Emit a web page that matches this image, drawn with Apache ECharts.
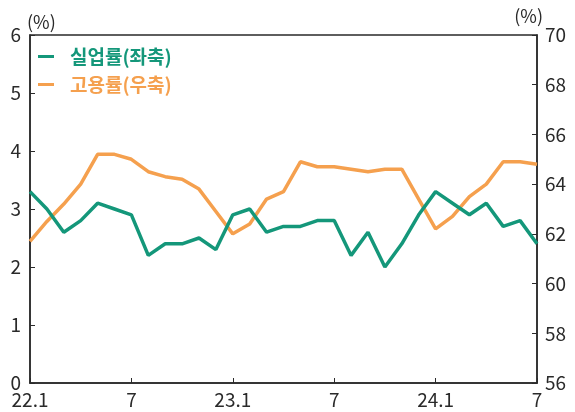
<!DOCTYPE html>
<html>
<head>
<meta charset="utf-8">
<script src="https://cdn.jsdelivr.net/npm/echarts@6/dist/echarts.min.js"></script>
<style>
  html, body { margin: 0; padding: 0; background: #fff; }
  #chart { width: 575px; height: 412px; }
</style>
</head>
<body>
<div id="chart"></div>
<script>
// 월별 (22.1 ~ 24.7)
var months = ['22.1','22.2','22.3','22.4','22.5','22.6','22.7','22.8','22.9','22.10','22.11','22.12',
              '23.1','23.2','23.3','23.4','23.5','23.6','23.7','23.8','23.9','23.10','23.11','23.12',
              '24.1','24.2','24.3','24.4','24.5','24.6','24.7'];
// 실업률(좌축, %)
var unempRate = [3.3, 3.0, 2.6, 2.8, 3.1, 3.0, 2.9, 2.2, 2.4, 2.4, 2.5, 2.3,
                 2.9, 3.0, 2.6, 2.7, 2.7, 2.8, 2.8, 2.2, 2.6, 2.0, 2.4, 2.9,
                 3.3, 3.1, 2.9, 3.1, 2.7, 2.8, 2.4];
// 고용률(우축, %)
var empRate = [61.7, 62.5, 63.2, 64.0, 65.2, 65.2, 65.0, 64.5, 64.3, 64.2, 63.8, 62.9,
               62.0, 62.4, 63.4, 63.7, 64.9, 64.7, 64.7, 64.6, 64.5, 64.6, 64.6, 63.4,
               62.2, 62.7, 63.5, 64.0, 64.9, 64.9, 64.8];
// 눈금 표시할 달 (1월, 7월)
var tickIdx = [0, 6, 12, 18, 24, 30];

var green = '#14977a';
var orange = '#f5a04e';
var ink = '#2a2a2a';
var font = '"Noto Sans CJK KR", "Noto Sans", sans-serif';

var myChart = echarts.init(document.getElementById('chart'));
var option = {
  animation: false,
  textStyle: { fontFamily: font },
  grid: {
    left: 30, right: 38, top: 35, bottom: 29,
    outerBoundsMode: 'none',
    containLabel: false,
    show: true, borderColor: ink, borderWidth: 1.5
  },
  legend: {
    orient: 'vertical',
    left: 33, top: 42,
    itemGap: 9,
    itemWidth: 16, itemHeight: 3,
    icon: 'rect',
    textStyle: { fontSize: 19, fontFamily: font, fontWeight: 'bold', padding: [0, 0, 0, 11] },
    data: [
      { name: '실업률(좌축)', textStyle: { color: green } },
      { name: '고용률(우축)', textStyle: { color: orange } }
    ]
  },
  xAxis: {
    type: 'category',
    data: months,
    boundaryGap: false,
    axisLine: { lineStyle: { color: ink, width: 1.5 } },
    axisTick: {
      inside: true, length: 5, lineStyle: { color: ink },
      interval: function (i) { return tickIdx.indexOf(i) >= 0; }
    },
    axisLabel: {
      color: ink, fontSize: 19, margin: 7,
      interval: function (i) { return tickIdx.indexOf(i) >= 0; },
      formatter: function (v) {
        var p = v.split('.');
        return p[1] === '1' ? v : p[1];
      }
    },
    splitLine: { show: false }
  },
  yAxis: [
    {
      type: 'value', min: 0, max: 6, interval: 1,
      name: '(%)', nameLocation: 'end', nameGap: 13,
      nameTextStyle: { color: ink, fontSize: 18, align: 'left', verticalAlign: 'middle', padding: [0, 0, 0, -3] },
      axisLine: { show: true, lineStyle: { color: ink, width: 1.5 } },
      axisTick: { show: true, inside: true, length: 5, lineStyle: { color: ink } },
      axisLabel: { color: ink, fontSize: 19, margin: 9, padding: [0, 0, 5, 0] },
      splitLine: { show: false }
    },
    {
      type: 'value', min: 56, max: 70, interval: 2,
      name: '(%)', nameLocation: 'end', nameGap: 13,
      nameTextStyle: { color: ink, fontSize: 18, align: 'right', verticalAlign: 'middle', padding: [0, -6, 0, 0] },
      axisLine: { show: true, lineStyle: { color: ink, width: 1.5 } },
      axisTick: { show: true, inside: true, length: 5, lineStyle: { color: ink } },
      axisLabel: { color: ink, fontSize: 19, margin: 8, padding: [0, 0, 5, 0] },
      splitLine: { show: false }
    }
  ],
  series: [
    {
      name: '실업률(좌축)', type: 'line', yAxisIndex: 0,
      data: unempRate, symbol: 'none',
      lineStyle: { color: green, width: 3.5 },
      itemStyle: { color: green },
      z: 3
    },
    {
      name: '고용률(우축)', type: 'line', yAxisIndex: 1,
      data: empRate, symbol: 'none',
      lineStyle: { color: orange, width: 3.5 },
      itemStyle: { color: orange },
      z: 2
    }
  ]
};
myChart.setOption(option);
</script>
</body>
</html>
